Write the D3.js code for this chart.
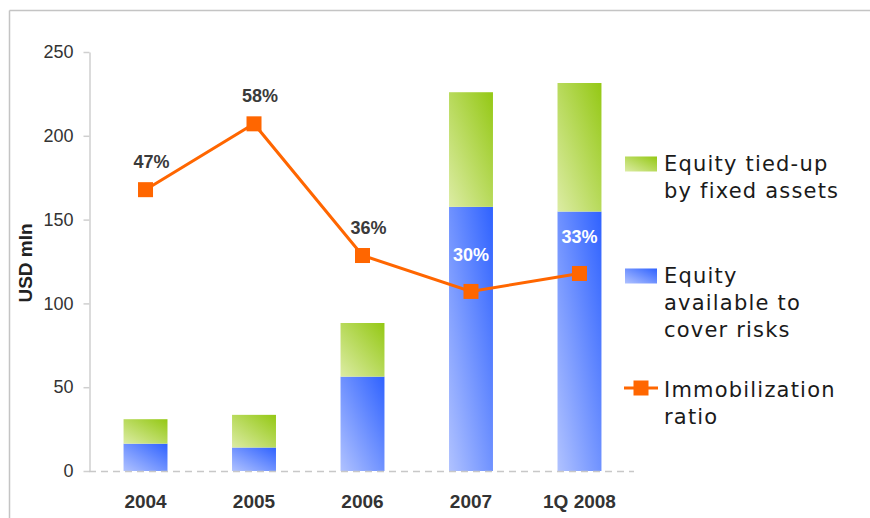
<!DOCTYPE html>
<html>
<head>
<meta charset="utf-8">
<script src="https://cdn.jsdelivr.net/npm/d3@7/dist/d3.min.js"></script>
<style>
  html, body { margin: 0; padding: 0; background: #fff; }
  svg { display: block; }
</style>
</head>
<body>
<svg id="chart" width="870" height="518"></svg>
<script>
// Periods shown on the x axis
const periods = ["2004", "2005", "2006", "2007", "1Q 2008"];
// Equity available to cover risks, USD mln (lower segment)
const equityAvailable = [16.3, 14.0, 56.3, 157.6, 154.8];
// Equity tied-up by fixed assets, USD mln (upper segment)
const equityTiedUp = [14.6, 19.5, 32.0, 68.4, 76.7];
// Immobilization ratio (share of equity tied-up by fixed assets)
const immobilizationRatio = [0.47, 0.58, 0.36, 0.30, 0.33];
// Left axis ticks
const yTicks = [0, 50, 100, 150, 200, 250];
// Legend entries
const legendLabels = [
  ["Equity tied-up", "by fixed assets"],
  ["Equity", "available to", "cover risks"],
  ["Immobilization", "ratio"]
];

const svg = d3.select("#chart");
const defs = svg.append("defs");

function addGradient(id, light, dark) {
  const g = defs.append("linearGradient")
    .attr("id", id)
    .attr("x1", 0).attr("y1", 1).attr("x2", 1).attr("y2", 0);
  g.append("stop").attr("offset", "0%").attr("stop-color", light);
  g.append("stop").attr("offset", "100%").attr("stop-color", dark);
}
addGradient("gradGreen", "#dcecA4", "#94c814");
addGradient("gradBlue", "#b0c2ff", "#2f62ff");

// Frame lines
svg.append("line").attr("x1", 9.5).attr("x2", 870).attr("y1", 10.5).attr("y2", 10.5)
  .attr("stroke", "#c4c4c4").attr("stroke-width", 1.5);
svg.append("line").attr("x1", 9.5).attr("x2", 9.5).attr("y1", 10.5).attr("y2", 518)
  .attr("stroke", "#c4c4c4").attr("stroke-width", 1.5);

const x = d3.scaleBand()
  .domain(periods)
  .range([91, 634])
  .paddingInner(0.595)
  .paddingOuter(0.3);

const y = d3.scaleLinear().domain([0, 250]).range([471, 52]);
// Hidden secondary scale for the ratio line
const y2 = d3.scaleLinear().domain([0, 0.70]).range([471, 52]);

// Y axis
const yAxis = svg.append("g")
  .attr("transform", "translate(89.5,0)")
  .call(d3.axisLeft(y).tickValues(yTicks).tickSize(6).tickSizeOuter(0).tickPadding(10));
yAxis.select(".domain").attr("stroke", "#cfcfcf").attr("stroke-width", 1.5);
yAxis.selectAll(".tick line").attr("stroke", "#cfcfcf").attr("stroke-width", 1.5);
yAxis.selectAll(".tick text")
  .attr("fill", "#333")
  .style("font-family", "'Liberation Sans', Arial, sans-serif")
  .style("font-size", "18px");

// Y axis title
svg.append("text")
  .attr("transform", "translate(32,263) rotate(-90)")
  .attr("text-anchor", "middle")
  .attr("fill", "#222")
  .style("font-family", "'Liberation Sans', Arial, sans-serif")
  .style("font-size", "19px")
  .style("font-weight", "bold")
  .text("USD mln");

// Stacked bars
const rows = periods.map((p, i) => ({
  period: p,
  available: equityAvailable[i],
  tied: equityTiedUp[i],
  ratio: immobilizationRatio[i]
}));

const bars = svg.append("g");
bars.selectAll("rect.avail")
  .data(rows).join("rect")
  .attr("class", "avail")
  .attr("x", d => x(d.period))
  .attr("width", x.bandwidth())
  .attr("y", d => y(d.available))
  .attr("height", d => y(0) - y(d.available))
  .attr("fill", "url(#gradBlue)");
bars.selectAll("rect.tied")
  .data(rows).join("rect")
  .attr("class", "tied")
  .attr("x", d => x(d.period))
  .attr("width", x.bandwidth())
  .attr("y", d => y(d.available + d.tied))
  .attr("height", d => y(d.available) - y(d.available + d.tied))
  .attr("fill", "url(#gradGreen)");

// Dashed baseline
svg.append("line")
  .attr("x1", 89).attr("x2", 634)
  .attr("y1", y(0) + 0.5).attr("y2", y(0) + 0.5)
  .attr("stroke", "#c8c8c8").attr("stroke-width", 1.5)
  .attr("stroke-dasharray", "7,5");

// X axis labels
const xAxis = svg.append("g")
  .attr("transform", `translate(0,${y(0)})`)
  .call(d3.axisBottom(x).tickSize(0).tickPadding(24));
xAxis.select(".domain").remove();
xAxis.selectAll(".tick text")
  .attr("fill", "#333")
  .style("font-family", "'Liberation Sans', Arial, sans-serif")
  .style("font-size", "19px")
  .style("font-weight", "bold");

// Ratio line
const cx = d => x(d.period) + x.bandwidth() / 2;
const line = d3.line().x(cx).y(d => y2(d.ratio));
svg.append("path")
  .datum(rows)
  .attr("d", line)
  .attr("fill", "none")
  .attr("stroke", "#ff6600")
  .attr("stroke-width", 3);

const mk = 15;
svg.selectAll("rect.marker")
  .data(rows).join("rect")
  .attr("class", "marker")
  .attr("x", d => cx(d) - mk / 2)
  .attr("y", d => y2(d.ratio) - mk / 2)
  .attr("width", mk).attr("height", mk)
  .attr("fill", "#ff6600");

// Ratio labels: white when the point sits inside the blue segment
svg.selectAll("text.ratio")
  .data(rows).join("text")
  .attr("class", "ratio")
  .attr("x", d => cx(d) + (y2(d.ratio) > y(d.available) ? 0 : 6))
  .attr("y", d => y2(d.ratio) - (y2(d.ratio) > y(d.available) ? 30 : 22))
  .attr("text-anchor", "middle")
  .attr("fill", d => y2(d.ratio) > y(d.available) ? "#ffffff" : "#3a3a3a")
  .style("font-family", "'Liberation Sans', Arial, sans-serif")
  .style("font-size", "18px")
  .style("font-weight", "bold")
  .text(d => Math.round(d.ratio * 100) + "%");

// Legend
const legend = svg.append("g").style("font-family", "'DejaVu Sans', sans-serif");
const legendTop = [171, 283, 397];
const lineGap = 27;
legendLabels.forEach((lines, i) => {
  const g = legend.append("g");
  const base = legendTop[i];
  if (i === 0 || i === 1) {
    g.append("rect")
      .attr("x", 625).attr("y", base - 14.5)
      .attr("width", 32).attr("height", 15)
      .attr("fill", i === 0 ? "url(#gradGreen)" : "url(#gradBlue)");
  } else {
    g.append("line")
      .attr("x1", 624).attr("x2", 658)
      .attr("y1", base - 9).attr("y2", base - 9)
      .attr("stroke", "#ff6600").attr("stroke-width", 3);
    g.append("rect")
      .attr("x", 641 - mk / 2).attr("y", base - 9 - mk / 2)
      .attr("width", mk).attr("height", mk)
      .attr("fill", "#ff6600");
  }
  lines.forEach((t, j) => {
    g.append("text")
      .attr("x", 664)
      .attr("y", base + j * lineGap)
      .attr("fill", "#1a1a1a")
      .style("font-size", "21px")
      .style("letter-spacing", "1.2px")
      .text(t);
  });
});
</script>
</body>
</html>
